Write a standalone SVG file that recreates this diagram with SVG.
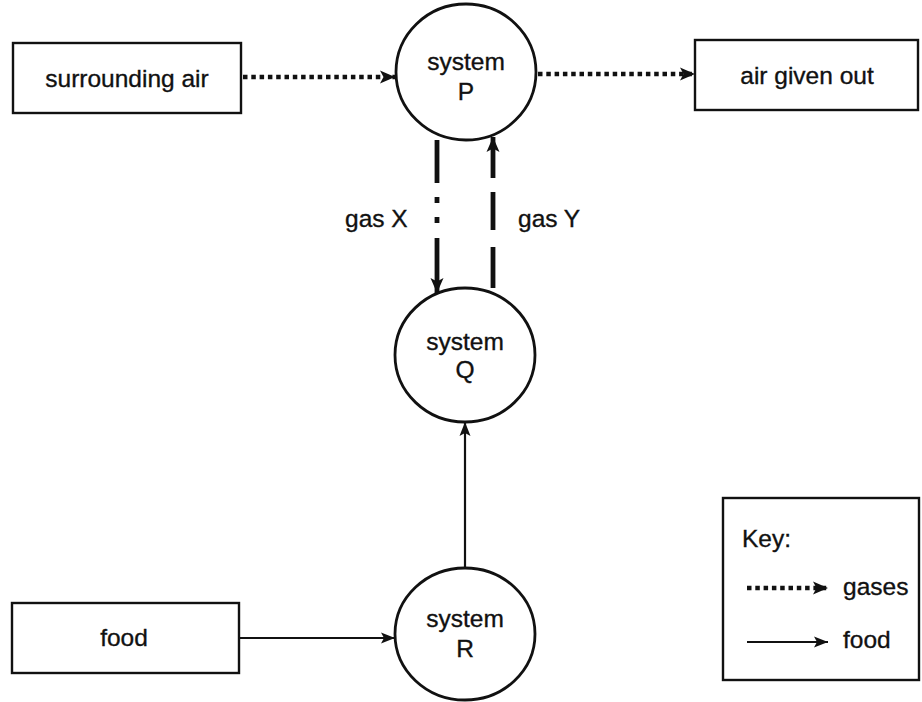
<svg xmlns="http://www.w3.org/2000/svg" width="922" height="702" viewBox="0 0 922 702">
<style>
  text { font-family: "Liberation Sans", Arial, sans-serif; font-size: 24.5px; fill: #111; stroke: #111; stroke-width: 0.35; }
  .c { text-anchor: middle; }
  .box { fill: #fff; stroke: #111; stroke-width: 2.4; }
  .sys { fill: #fff; stroke: #111; stroke-width: 2.8; }
  .gas { fill: none; stroke: #111; stroke-width: 4.5; stroke-dasharray: 4.5 3.8; }
  .gasv { fill: none; stroke: #111; stroke-width: 4.8; }
  .food { fill: none; stroke: #111; stroke-width: 2.2; }
</style>
<defs>
  <marker id="gashead" markerUnits="userSpaceOnUse" markerWidth="16" markerHeight="16" viewBox="0 0 16 16" refX="15" refY="8" orient="auto">
    <path d="M0,1.5 L15,8 L0,14.5 L3.5,8 Z" fill="#111"/>
  </marker>
  <marker id="foodhead" markerUnits="userSpaceOnUse" markerWidth="15" markerHeight="13" viewBox="0 0 15 13" refX="14" refY="6.5" orient="auto">
    <path d="M0,1 L14,6.5 L0,12 L3,6.5 Z" fill="#111"/>
  </marker>
</defs>
<rect width="922" height="702" fill="#fff"/>

<g id="connectors">
  <line class="gas" x1="243" y1="77" x2="395" y2="77" marker-end="url(#gashead)"/>
  <line class="gas" x1="538" y1="74" x2="695" y2="74" marker-end="url(#gashead)"/>
  <g id="gasX">
    <line class="gasv" x1="437" y1="140" x2="437" y2="183"/>
    <line class="gasv" x1="437" y1="197" x2="437" y2="203"/>
    <line class="gasv" x1="437" y1="217" x2="437" y2="223"/>
    <line class="gasv" x1="437" y1="238" x2="437" y2="293" marker-end="url(#gashead)"/>
  </g>
  <g id="gasY">
    <line class="gasv" x1="493" y1="288" x2="493" y2="247"/>
    <line class="gasv" x1="493" y1="230" x2="493" y2="192"/>
    <line class="gasv" x1="493" y1="178" x2="493" y2="137" marker-end="url(#gashead)"/>
  </g>
  <line class="food" x1="239" y1="638" x2="395" y2="638" marker-end="url(#foodhead)"/>
  <line class="food" x1="465" y1="568" x2="465" y2="422" marker-end="url(#foodhead)"/>
  <text x="345" y="227">gas X</text>
  <text x="518" y="227">gas Y</text>
</g>

<g id="surrounding-air">
  <rect class="box" x="13" y="43" width="228" height="70"/>
  <text class="c" x="127" y="87">surrounding air</text>
</g>
<g id="air-given-out">
  <rect class="box" x="695" y="40" width="223" height="70"/>
  <text class="c" x="807" y="84">air given out</text>
</g>
<g id="food">
  <rect class="box" x="12" y="603" width="227" height="70"/>
  <text class="c" x="124" y="646">food</text>
</g>
<g id="system-P">
  <ellipse class="sys" cx="466" cy="72" rx="70" ry="68"/>
  <text class="c" x="466" y="70">system</text>
  <text class="c" x="466" y="100">P</text>
</g>
<g id="system-Q">
  <ellipse class="sys" cx="465" cy="355" rx="70" ry="67"/>
  <text class="c" x="465" y="350">system</text>
  <text class="c" x="465" y="378">Q</text>
</g>
<g id="system-R">
  <ellipse class="sys" cx="465" cy="634" rx="70" ry="66"/>
  <text class="c" x="465" y="627">system</text>
  <text class="c" x="465" y="657">R</text>
</g>
<g id="key">
  <rect class="box" x="723" y="498" width="196" height="182"/>
  <text x="742" y="547">Key:</text>
  <line class="gas" x1="747" y1="588" x2="828" y2="588" marker-end="url(#gashead)"/>
  <text x="843" y="595">gases</text>
  <line class="food" x1="747" y1="642" x2="828" y2="642" marker-end="url(#foodhead)"/>
  <text x="843" y="648">food</text>
</g>
</svg>
